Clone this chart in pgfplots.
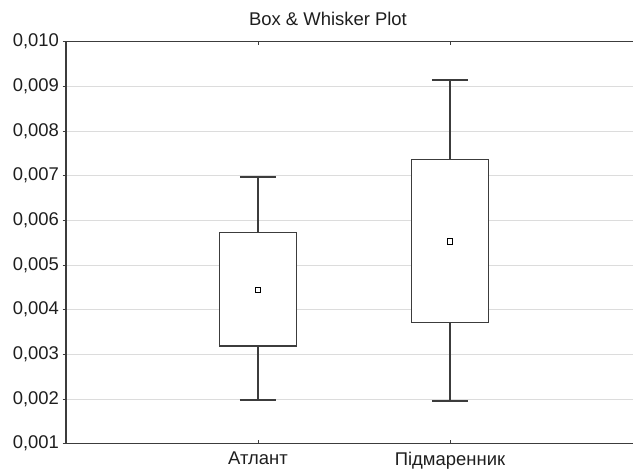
\documentclass[border=0pt]{standalone}
\usepackage{fontspec}
\setmainfont{Liberation Sans}
\usepackage{pgfplots}
\pgfplotsset{compat=1.18}
\usepgfplotslibrary{statistics}

\definecolor{lineclr}{HTML}{3C3C3C}
\definecolor{gridclr}{HTML}{DCDCDC}
\definecolor{txtclr}{HTML}{1E1E1E}

\begin{document}
\begin{tikzpicture}
\begin{axis}[
    at={(66bp,29.3bp)}, anchor=south west,
    scale only axis,
    width=567bp, height=402bp,
    xmin=0, xmax=2.953,
    ymin=0.001, ymax=0.010,
    xtick={1,2},
    xticklabels={Атлант, Підмаренник},
    ytick={0.001,0.002,0.003,0.004,0.005,0.006,0.007,0.008,0.009,0.010},
    scaled y ticks=false,
    yticklabel style={xshift=-3.5bp,
        /pgf/number format/fixed, /pgf/number format/fixed zerofill,
        /pgf/number format/precision=3, /pgf/number format/use comma},
    /pgf/number format/assume math mode=true,
    ymajorgrids,
    grid style={gridclr, line width=0.8bp},
    axis line style={draw=none},
    tick align=inside,
    major tick length=3.5bp,
    xtick pos=both, ytick pos=left,
    tick style={lineclr, line width=0.8bp},
    ytick style={xshift=-3.5bp},
    tick label style={font=\fontsize{18.5}{21}\selectfont, text=txtclr},
    xticklabel style={yshift=-5bp},
    boxplot/draw direction=y,
    boxplot/every box/.style={draw=lineclr, line width=1.2bp, fill=white},
    boxplot/every whisker/.style={draw=lineclr, line width=2bp},
    boxplot/every median/.style={draw=none},
    after end axis/.code={
        \draw[lineclr, line width=1.2bp]
            (rel axis cs:1,1) -- (rel axis cs:0,1) -- (rel axis cs:0,0) -- (rel axis cs:1,0);
    },
]
% Атлант
\addplot[boxplot prepared={draw position=1,
    lower whisker=0.001979, lower quartile=0.003188, median=0.004441,
    upper quartile=0.005733, upper whisker=0.006978,
    box extend=0.4, whisker extend=0.19}] coordinates {};
% Підмаренник
\addplot[boxplot prepared={draw position=2,
    lower whisker=0.001950, lower quartile=0.003709, median=0.005523,
    upper quartile=0.007367, upper whisker=0.009143,
    box extend=0.4, whisker extend=0.19}] coordinates {};
% means
\addplot[only marks, mark=square*, mark size=2.8bp,
    mark options={fill=white, draw=black, line width=0.8bp}]
    coordinates {(1,0.004441) (2,0.005523)};
\end{axis}
\node[anchor=base, font=\fontsize{18.5}{21}\selectfont, text=txtclr] at (328bp,447bp) {Box \& Whisker Plot};
\pgfresetboundingbox
\useasboundingbox (0,0) rectangle (633bp,473bp);
\end{tikzpicture}
\end{document}
